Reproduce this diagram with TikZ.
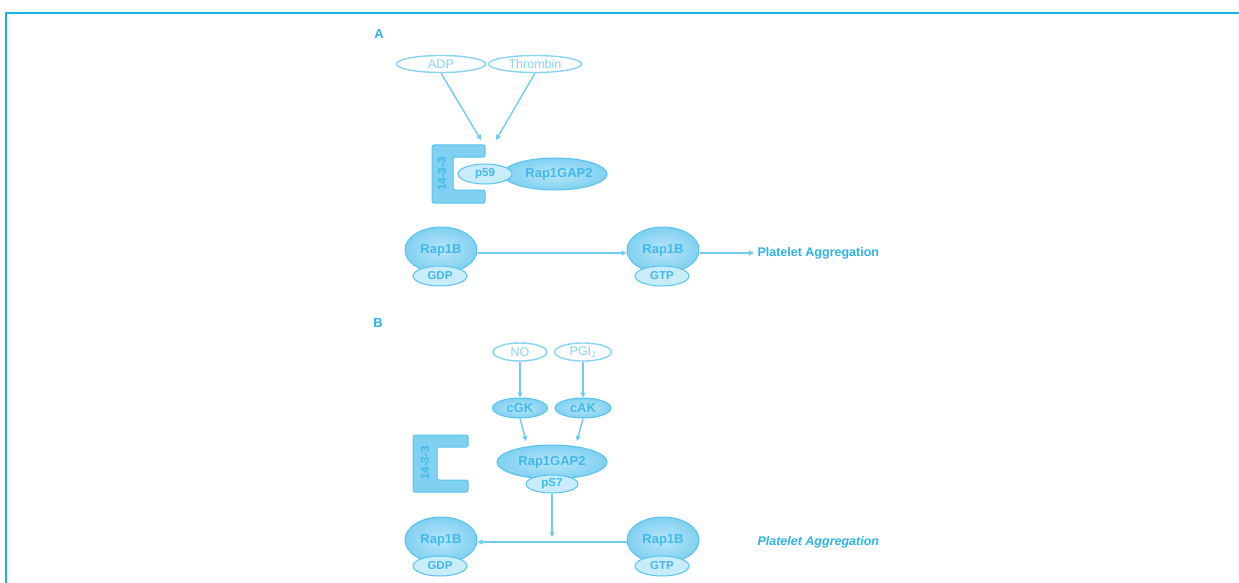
\documentclass[tikz,border=0pt]{standalone}
\usepackage{fontspec}
\setmainfont{Liberation Sans}
\usetikzlibrary{arrows.meta,shapes.geometric}
\definecolor{frameblue}{HTML}{1AB0EA}
\definecolor{edgeblue}{HTML}{55C3EE}
\definecolor{fillblue}{HTML}{80D0F1}
\definecolor{txtblue}{HTML}{2EB2E8}
\definecolor{innertxt}{HTML}{3FB8EA}
\definecolor{paleblue}{HTML}{86D3F2}
\definecolor{lineblue}{HTML}{6FCBF0}
\definecolor{liteblue}{HTML}{C8ECFA}
\definecolor{centerblue}{HTML}{B8E6F8}
\begin{document}
\begin{tikzpicture}[x=1pt,y=-1pt,
  panel/.style={font=\fontsize{13}{15}\selectfont\bfseries, text=txtblue},
  outline/.style={ellipse, draw=paleblue, line width=1.4pt, fill=white, text=paleblue,
    font=\fontsize{12.5}{14}\selectfont, inner sep=0pt},
  filled/.style={ellipse, draw=edgeblue, line width=1pt, inner color=centerblue, outer color=fillblue,
    text=innertxt, font=\fontsize{13}{15}\selectfont\bfseries, inner sep=0pt},
  small/.style={ellipse, draw=edgeblue, line width=1pt, fill=liteblue, text=innertxt,
    font=\fontsize{11.5}{13}\selectfont\bfseries, inner sep=0pt, minimum width=54pt, minimum height=20pt},
  rap/.style={filled, minimum width=72pt, minimum height=46pt},
  bracketshape/.style={draw=edgeblue, line width=1pt, fill=fillblue, rounded corners=2pt},
  conn/.style={draw=lineblue, line width=1.4pt, -{Triangle[length=5pt,width=5pt]}},
  agg/.style={font=\fontsize{12.5}{15}\selectfont\bfseries, text=txtblue, anchor=west},
  vtext/.style={rotate=90, text=innertxt, font=\fontsize{11.5}{13}\selectfont\bfseries},
]
\useasboundingbox (0,0) rectangle (1239,583);
% frame
\draw[frameblue, line width=2pt] (6,583) -- (6,13) -- (1239,13);

% ---------------- Panel A ----------------
\node[panel] (labA) at (379,34) {A};
\node[outline, minimum width=89pt, minimum height=17pt] (adp) at (441,64) {ADP};
\node[outline, minimum width=93pt, minimum height=17pt] (thr) at (535,64) {Thrombin};

\draw[bracketshape] (432,145) -- (485,145) -- (485,157) -- (453,157) -- (453,190) -- (485,190) -- (485,203) -- (432,203) -- cycle;
\node[vtext] (b1433A) at (442,174) {14-3-3};

\node[filled, minimum width=104pt, minimum height=32pt] (gapA) at (555,174) {\makebox[0pt]{\hspace{8pt}Rap1GAP2}};
\node[small, minimum width=54pt, minimum height=20pt] (p59) at (485,174) {p59};

\coordinate (tipA1) at (481,140);
\coordinate (tipA2) at (496,140);
\draw[conn] (adp.south) -- (tipA1);
\draw[conn] (thr.south) -- (tipA2);

\node[rap] (rapA1) at (441,250) {Rap1B};
\node[small] (gdpA) at (440,276) {GDP};
\node[rap] (rapA2) at (663,250) {Rap1B};
\node[small] (gtpA) at (662,276) {GTP};
\node[agg] (aggA) at (754,253) {Platelet Aggregation};

\draw[conn] (rapA1.east |- 0,253) -- (rapA2.west |- 0,253);
\draw[conn] (rapA2.east |- 0,253) -- (aggA.west);

% ---------------- Panel B ----------------
\node[panel] (labB) at (378,323) {B};
\node[outline, minimum width=54pt, minimum height=18pt] (no) at (520,352) {NO};
\node[outline, minimum width=57pt, minimum height=18pt] (pgi) at (583,352) {PGI$_2$};
\node[filled, minimum width=55pt, minimum height=20pt] (cgk) at (520,408) {cGK};
\node[filled, minimum width=56pt, minimum height=20pt] (cak) at (583,408) {cAK};

\draw[conn] (no) -- (cgk);
\draw[conn] (pgi) -- (cak);

\draw[bracketshape] (413,435) -- (468,435) -- (468,447) -- (437,447) -- (437,480) -- (468,480) -- (468,492) -- (413,492) -- cycle;
\node[vtext] (b1433B) at (425,463) {14-3-3};

\node[filled, minimum width=110pt, minimum height=34pt] (gapB) at (552,462) {\raisebox{3pt}{Rap1GAP2}};
\node[small, minimum width=52pt, minimum height=18pt] (ps7) at (552,484) {pS7};

\coordinate (tipB1) at (526,441);
\coordinate (tipB2) at (577,441);
\draw[conn] (cgk.south) -- (tipB1);
\draw[conn] (cak.south) -- (tipB2);

\node[rap] (rapB1) at (441,540) {Rap1B};
\node[small] (gdpB) at (440,566) {GDP};
\node[rap] (rapB2) at (663,540) {Rap1B};
\node[small] (gtpB) at (662,566) {GTP};
\node[agg, font=\fontsize{12.5}{15}\selectfont\bfseries\itshape] (aggB) at (754,542) {Platelet Aggregation};

\draw[conn] (rapB2.west |- 0,542) -- (rapB1.east |- 0,542);
\coordinate (tipB3) at (552,537);
\draw[conn] (ps7.south) -- (tipB3);
\end{tikzpicture}
\end{document}
